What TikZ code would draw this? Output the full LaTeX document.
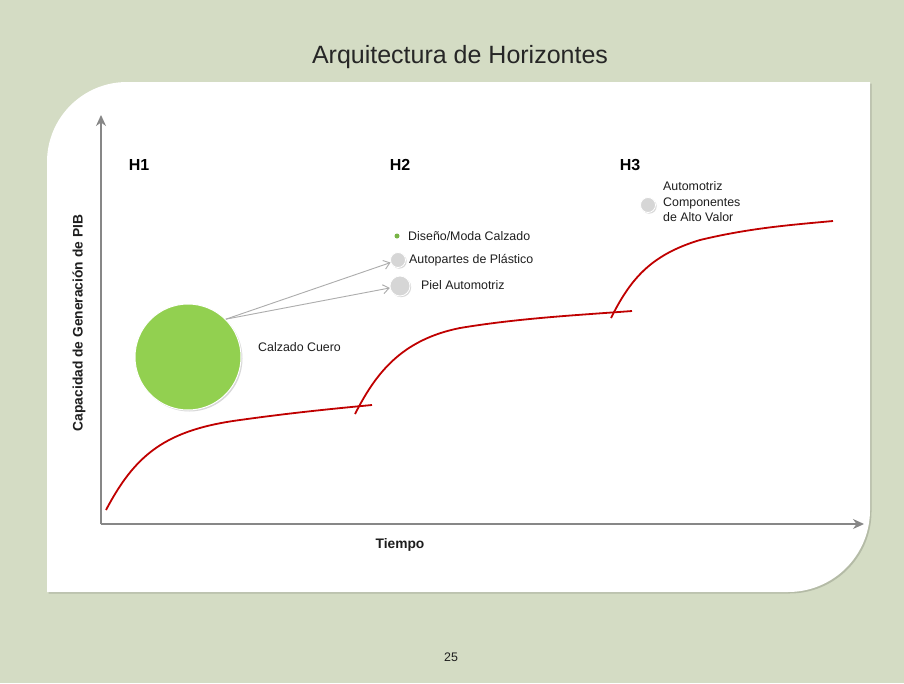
\documentclass[tikz,border=0pt]{standalone}
\usepackage{fontspec}
\setmainfont{Liberation Sans}
\usetikzlibrary{arrows.meta,shadows}
\definecolor{bgc}{RGB}{212,220,196}
\definecolor{leaf}{RGB}{146,208,80}
\definecolor{dotg}{RGB}{120,180,70}
\definecolor{bubble}{RGB}{214,214,214}
\definecolor{curvered}{RGB}{192,0,0}
\definecolor{axisgray}{RGB}{135,135,135}
\definecolor{txt}{RGB}{30,30,30}
\begin{document}
\begin{tikzpicture}[x=1pt,y=-1pt,
  lbl/.style={font=\fontsize{12.4}{15.5}\selectfont, text=txt, inner sep=0pt},
  hlbl/.style={font=\fontsize{16}{18}\selectfont\bfseries, text=black, inner sep=0pt},
  axlbl/.style={font=\fontsize{13.8}{16}\selectfont\bfseries, text=txt, inner sep=0pt},
  axisline/.style={draw=axisgray, line width=1.3pt, -{Stealth[length=11pt,width=10pt,inset=3.5pt]}},
  conn/.style={draw=gray!65, line width=0.9pt, -{Straight Barb[length=6pt,width=9pt]}},
  bub/.style={circle, fill=bubble, draw=white, line width=0.8pt, inner sep=0pt,
    drop shadow={shadow xshift=1.2pt, shadow yshift=-1.2pt, opacity=0.3}},
  growth/.style={draw=curvered, line width=1.8pt}
]
\useasboundingbox (0,0) rectangle (904,683);
\fill[bgc] (0,0) rectangle (904,683);
% panel shadow
\begin{scope}[shift={(1.5,1.5)}]
\fill[black, opacity=0.15] (47,592) -- (47,162) .. controls (47,117.8) and (82.8,82) .. (127,82)
  -- (870,82) -- (870,510) .. controls (870,555.3) and (833.3,592) .. (788,592) -- cycle;
\end{scope}
% panel
\fill[white] (47,592) -- (47,162) .. controls (47,117.8) and (82.8,82) .. (127,82)
  -- (870,82) -- (870,510) .. controls (870,555.3) and (833.3,592) .. (788,592) -- cycle;

% title
\node[font=\fontsize{25}{30}\selectfont, text=black!85, inner sep=0pt] (title) at (460,57) {Arquitectura de Horizontes};

% axes
\coordinate (O) at (101,524);
\coordinate (ytop) at (101,115);
\coordinate (xend) at (864,524);
\draw[axisline] (O) -- (ytop);
\draw[axisline] (O) -- (xend);
\node[axlbl, rotate=90] (ylbl) at (79,323) {Capacidad de Generación de PIB};
\node[axlbl] (xlbl) at (400,545) {Tiempo};

% horizon labels
\node[hlbl] (h1) at (139,165) {H1};
\node[hlbl] (h2) at (400,165) {H2};
\node[hlbl] (h3) at (630,165) {H3};

% growth curves
\draw[growth] (106,510) .. controls (135,455) and (165,430) .. (240,420)
  .. controls (290,413) and (330,409) .. (372,405);
\draw[growth] (355,414) .. controls (375,375) and (400,340) .. (460,328)
  .. controls (520,318) and (580,315) .. (632,311);
\draw[growth] (611,318) .. controls (630,280) and (650,255) .. (700,240)
  .. controls (750,228) and (790,225) .. (833,221);

% big circle
\node[circle, fill=leaf, draw=white, line width=1pt, minimum size=106pt, inner sep=0pt,
  drop shadow={shadow xshift=1.5pt, shadow yshift=-1.5pt, opacity=0.3}] (cuero) at (188,357) {};
\node[lbl, anchor=west] (cuerolbl) at (258,347) {Calzado Cuero};

% small bubbles
\node[circle, fill=dotg, inner sep=0pt, minimum size=5pt] (dis) at (397,236) {};
\node[bub, minimum size=15pt] (auto) at (398,260) {};
\node[bub, minimum size=20pt] (piel) at (400,286) {};
\node[bub, minimum size=15pt] (comp) at (648,205) {};

\node[lbl, anchor=west] (dislbl) at (408,236) {Diseño/Moda Calzado};
\node[lbl, anchor=west] (autolbl) at (409,260) {Autopartes de Plástico};
\node[lbl, anchor=west] (piellbl) at (421,285) {Piel Automotriz};
\node[lbl, anchor=west, align=left] (complbl) at (663,202) {Automotriz\\Componentes\\de Alto Valor};

% connectors
\draw[conn] (cuero.45) -- (auto);
\draw[conn] (cuero.45) -- (piel);

% page number
\node[lbl] (pg) at (451,657) {25};
\end{tikzpicture}
\end{document}
